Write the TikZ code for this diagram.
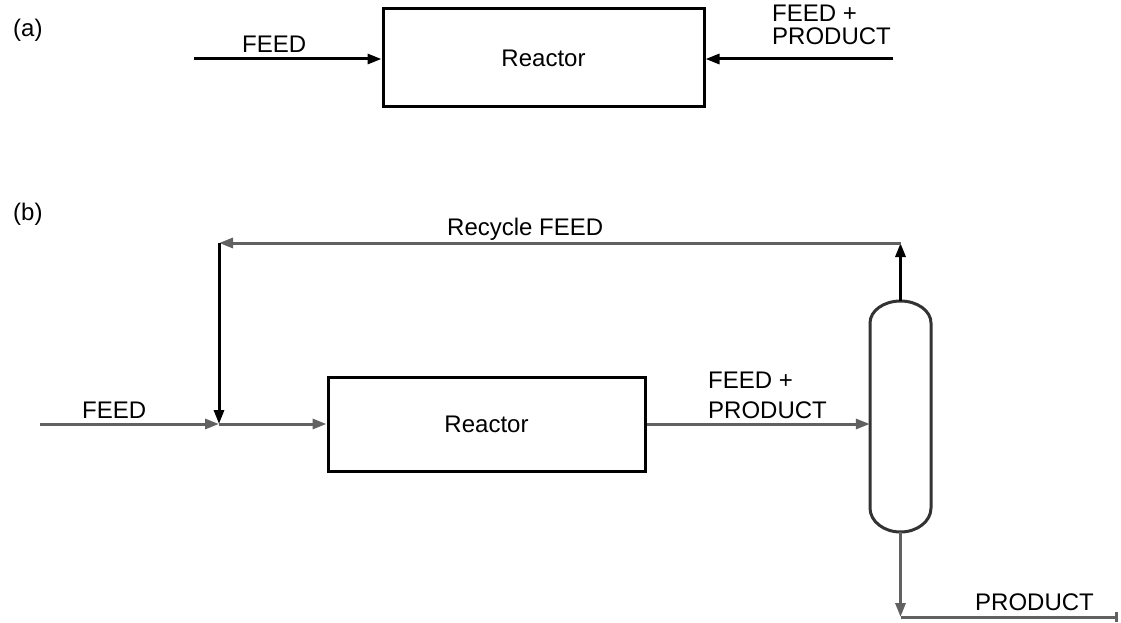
\documentclass[tikz,border=0pt]{standalone}
\usepackage{fontspec}
\setmainfont{Liberation Sans}
\usetikzlibrary{arrows.meta}
\definecolor{flowgray}{gray}{0.38}
\tikzset{
  lbl/.style={font=\fontsize{24}{28}\selectfont, inner sep=0pt, anchor=base west},
  reactorbox/.style={draw=black, line width=3pt, rectangle, inner sep=0pt,
    font=\fontsize{24}{28}\selectfont},
  flow/.style={line width=3pt, draw=#1, -{Triangle[length=14pt,width=10pt]}},
  flow/.default=flowgray,
  plain/.style={line width=3pt, draw=#1},
  plain/.default=flowgray,
  vessel/.style={line width=3pt, draw=black!80, line join=round},
}
\begin{document}
\begin{tikzpicture}[x=1pt,y=-1pt]
\useasboundingbox (0,0) rectangle (1121,623);

% ---------- (a) ----------
\node[lbl] (la) at (13,37) {(a)};
\node[reactorbox, minimum width=321pt, minimum height=98pt] (ra) at (543.5,58) {Reactor};
\coordinate (fa) at (194,59);
\coordinate (pa) at (893,59);
\draw[flow=black] (fa) -- (fa -| ra.west);
\draw[flow=black] (pa) -- (pa -| ra.east);
\node[lbl] (tfa) at (242,53) {FEED};
\node[lbl] (tpa1) at (772,22) {FEED +};
\node[lbl] (tpa2) at (772,45) {PRODUCT};

% ---------- (b) ----------
\node[lbl] (lb) at (13,220) {(b)};
\node[reactorbox, minimum width=317pt, minimum height=94pt] (rb) at (486.5,424) {Reactor};
\node[rectangle, minimum width=61pt, minimum height=231pt, inner sep=0pt] (col) at (900.5,416.5) {};
\draw[vessel]
  (870,323) arc[start angle=180, end angle=0, x radius=30.5pt, y radius=22pt]
  -- (931,508) arc[start angle=0, end angle=-180, x radius=30.5pt, y radius=24pt]
  -- cycle;

\coordinate (fb) at (40,424);
\coordinate (j) at (219,424);
\coordinate (c1) at (219,243);
\coordinate (c2) at (900.5,243);
\coordinate (p0) at (900.5,617);
\coordinate (p1) at (1118,617);

\draw[flow] (fb) -- (j);
\draw[flow] (j) -- (rb.west);
\draw[flow] (rb.east) -- (rb.east -| col.west);
\draw[flow=black] (col.north) -- (c2);
\draw[flow] (c2) -- (c1);
\draw[flow=black] (c1) -- (j);
\draw[flow] (col.south) -- (p0);
\draw[plain, -{Bar[width=10pt]}] (p0) -- (p1);

\node[lbl] (tfb) at (82,418) {FEED};
\node[lbl] (trec) at (447,235) {Recycle FEED};
\node[lbl] (tpb1) at (708,388) {FEED +};
\node[lbl] (tpb2) at (708,418) {PRODUCT};
\node[lbl] (tpb3) at (975,610) {PRODUCT};
\end{tikzpicture}
\end{document}
